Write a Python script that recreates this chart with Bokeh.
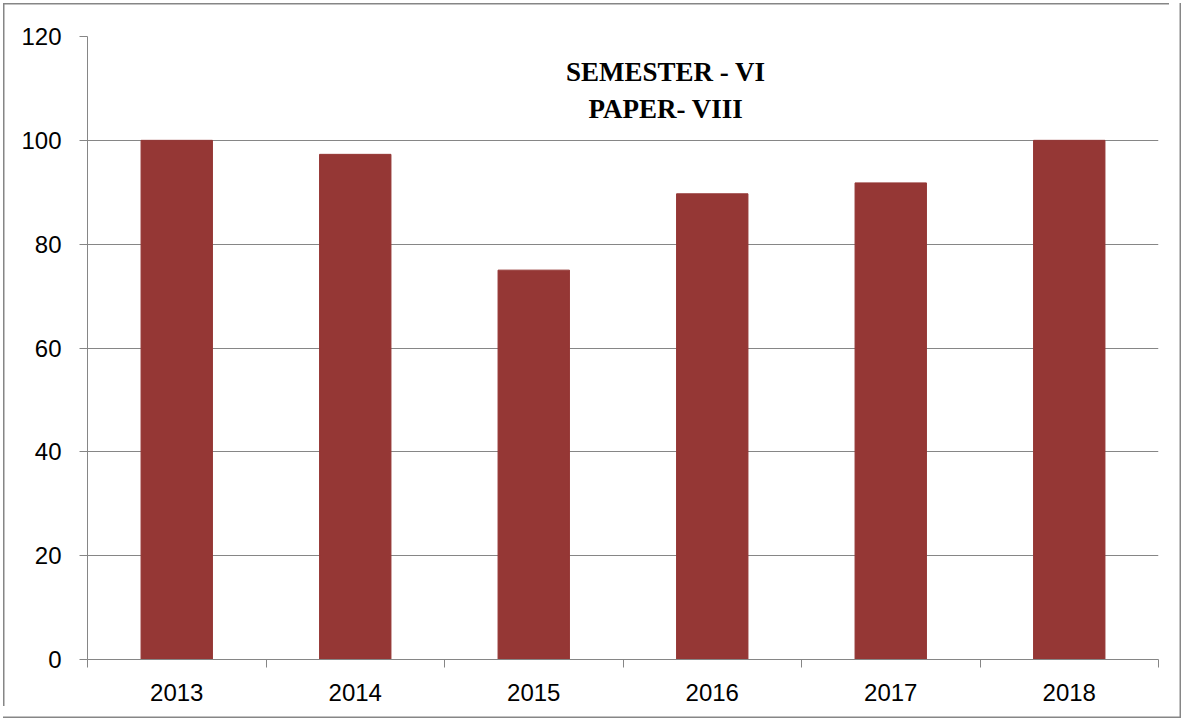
from bokeh.plotting import figure
from bokeh.models import FixedTicker, Label, Range1d, ColumnDataSource
from bokeh.embed import file_html
from bokeh.resources import INLINE

years = ["2013", "2014", "2015", "2016", "2017", "2018"]
values = [100, 97.3, 75, 89.7, 91.8, 100]
y_ticks = [0, 20, 40, 60, 80, 100, 120]
title_lines = ["SEMESTER - VI", "PAPER- VIII"]

GRAY = "#868686"
BAR = "#953735"

x_pos = [i + 0.5 for i in range(len(years))]
src = ColumnDataSource(dict(x=x_pos, top=values, year=years))

p = figure(width=1169, height=706, output_backend="svg", toolbar_location=None,
           x_range=Range1d(0, len(years)), y_range=Range1d(0, 120),
           min_border_left=87, min_border_right=11, min_border_top=36, min_border_bottom=47)
p.background_fill_color = "white"
p.border_fill_color = None
p.outline_line_color = None
p.styles = {
    "background-color": "white",
    "box-shadow": ("inset 3px 3px 0 0 white, inset 4.5px 4.5px 0 0 #868686, "
                   "6.75px 6.75px 0 3.75px white, 7.5px 7.5px 0 4.5px #868686"),
}

p.vbar(x="x", top="top", width=0.4, bottom=0, source=src,
       fill_color=BAR, line_color=BAR)

# y axis
p.yaxis.ticker = FixedTicker(ticks=y_ticks)
p.yaxis.axis_line_color = GRAY
p.yaxis.major_tick_line_color = GRAY
p.yaxis.major_tick_out = 8
p.yaxis.major_tick_in = 0
p.yaxis.minor_tick_line_color = None
p.yaxis.major_label_standoff = 18
p.yaxis.major_label_text_font = "Liberation Sans"
p.yaxis.major_label_text_font_size = "24px"
p.yaxis.major_label_text_color = "black"

# x axis: labels at centers, ticks at boundaries
p.xaxis.ticker = FixedTicker(ticks=x_pos, minor_ticks=list(range(len(years) + 1)))
p.xaxis.major_label_overrides = {x: y for x, y in zip(x_pos, years)}
p.xaxis.axis_line_color = GRAY
p.xaxis.major_tick_line_color = None
p.xaxis.major_tick_out = 8
p.xaxis.major_tick_in = 0
p.xaxis.minor_tick_line_color = GRAY
p.xaxis.minor_tick_out = 8
p.xaxis.minor_tick_in = 0
p.xaxis.major_label_standoff = 16
p.xaxis.major_label_text_font = "Liberation Sans"
p.xaxis.major_label_text_font_size = "24px"
p.xaxis.major_label_text_color = "black"

p.xgrid.grid_line_color = None
p.ygrid.ticker = FixedTicker(ticks=y_ticks)
p.ygrid.grid_line_color = GRAY
p.ygrid.grid_line_width = 1

for txt, yy in zip(title_lines, [113.1, 106.0]):
    p.add_layout(Label(x=3.24, y=yy, text=txt,
                       text_align="center", text_baseline="middle",
                       text_font="Liberation Serif", text_font_style="bold",
                       text_font_size="27px", text_color="black"))

open("out.html", "w").write(file_html(p, INLINE))
